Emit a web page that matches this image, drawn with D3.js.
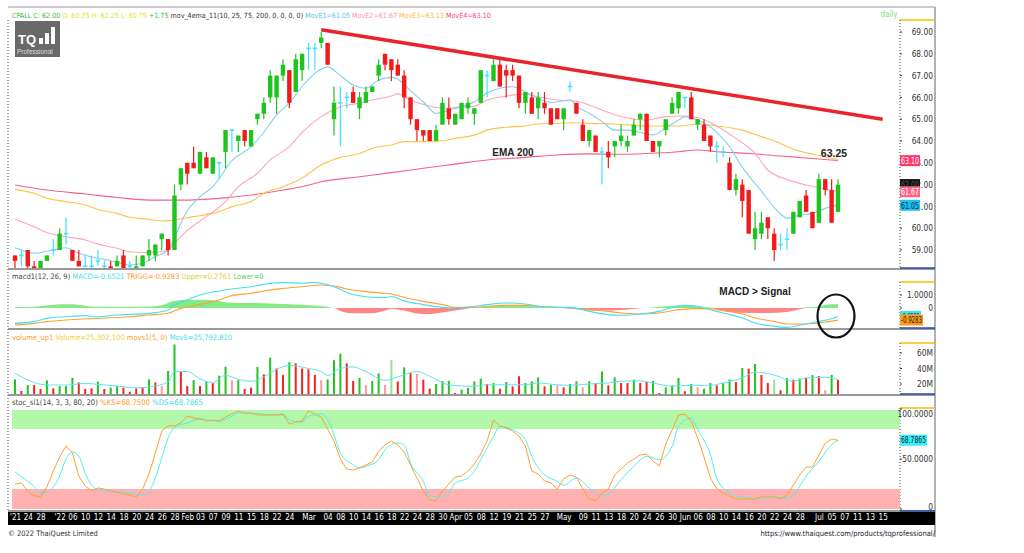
<!DOCTYPE html>
<html>
<head>
<meta charset="utf-8">
<script src="https://cdn.jsdelivr.net/npm/d3@7"></script>
<style>
body { margin: 0; background: #fff; }
svg { display: block; font-family: "Liberation Sans Narrow", "DejaVu Sans Condensed", "Liberation Sans", sans-serif; }
</style>
</head>
<body>
<div id="chart"></div>
<script>
// ---- candles (one per trading day, 22 Dec 2021 .. 6 Jul 2022)
var opens = [58.75,58.75,59,58.25,58,58.5,59,59,59.75,59,58.5,58.25,58.25,58.5,58.25,58.25,58.25,58.75,58.25,58,
  58.25,58.75,58.75,59.5,59.5,59,62,63,63,62.5,63.25,62.5,63,63.5,64.5,64,64.5,63.75,65,65.25,
  66,66,67,67.25,66.25,67.25,68.25,68.25,68.5,68.5,65,65.75,66,66.25,65.5,65.75,66.25,67,68,67.75,
  67.5,67,66,65,64.5,64.5,64,64.75,65.5,64.75,65,65.5,65.25,65.75,67,66.75,67.5,67.25,67.25,67,
  65.75,66,65.5,65.75,65.5,65.5,65,66.5,65.75,64.75,64,64.25,63.5,63.5,63.75,64,63.75,64.25,65,65.25,
  64,63.75,64.5,65.25,65.5,66,66,64.75,64.75,64.25,63.75,63.5,63,61.75,62,61.75,59.5,59.75,60.5,59.75,
  59.25,59.5,59.75,60.5,61.5,60.75,60.25,62.25,61.75,60.75];
var highs = [58.75,59,59,58.5,58.5,58.75,59.5,60,60.5,59,59,58.75,58.75,59,58.5,58.5,58.75,59,58.5,58.75,
  58.75,59.5,59.25,59.75,59.5,62,62.75,63,63.75,63.5,63.5,63.25,63,64.5,64.5,64.25,64.5,64.5,65.25,66,
  67.25,67,67.75,67.25,68,68,68.5,68.5,69,68.5,66.5,66.5,66.25,66.5,66.25,66.5,66.5,67.75,68,67.75,
  67.75,67.25,66,65,64.5,64.5,64.75,66,66,65.25,65.75,66,65.5,67.25,67.25,67.75,67.75,67.5,67.5,67,
  66.25,66.25,66.25,66.25,65.5,65.5,65.5,66.75,65.75,65,64.5,64.25,63.75,64,64,64.75,64.25,65,65.25,65.25,
  64,64,65,66,66.25,66,66.25,65,65,64.25,64,63.75,63.25,62.5,62.25,61.75,60.75,60.75,60.5,60,
  59.75,60,60.75,61.25,61.75,60.75,62.5,62.25,62.25,62.25];
var lows = [58,58.25,58,58,58,58.5,58.75,59,59.25,58.5,58.25,58.25,58,58.25,58,58,58.25,58,58,58,
  58.25,58.5,58.5,59,58.75,59,61.75,62,62.75,62.5,62.75,62.5,62.25,62.75,63.5,63.5,63.75,63.75,64.75,65,
  65.75,65.25,66.75,65.5,66.25,66.75,67.25,67.25,68.25,67.5,64.25,63.75,65.5,65.75,65,65.75,66.25,66.75,67.25,66.75,
  67,65.5,64.75,64,64,64,64,64.75,64.75,64.75,65,65.25,64.75,65.75,66,66.75,66.5,66,66.75,65.5,
  65.25,65.25,65,65.25,64.75,65,64.5,66.25,65.25,64,63.75,63.5,62,62.75,63.25,63.75,63.5,64.25,64.5,64,
  63.5,63.25,64.25,65.25,65.25,65.5,65,64.5,64,63.5,63,63.25,61.75,61.5,60.5,59.75,59,59.5,59.5,58.5,
  59,59,59.75,60.5,60.75,60,60.25,61.5,60.25,60.75];
var closes = [58.5,58.75,58.25,58,58.5,58.75,59,59.75,59.75,58.5,58.25,58.25,58.25,58.5,58.25,58,58.5,58,58.25,58.25,
  58.75,59,59.25,59.75,59,61.5,62.75,62.5,62.75,63.5,62.75,63.25,63,64.5,64.5,64.25,64,64.5,65.25,65.75,
  67,67,67.5,65.75,67.75,68,68.25,68.25,68.75,67.5,65.75,65.75,66,65.75,66,66.25,66.5,67.5,67.5,67.25,
  67,66,65,64.5,64.25,64,64.5,65.75,65,65.25,65.75,65.75,65.5,67.25,67,67.5,66.5,67,67,65.75,
  66.25,65.25,66,65.5,64.75,65,65.5,66.5,65.25,64,64.5,63.5,63.5,63.25,64,64.25,64,64.75,65.25,64,
  63.5,64,65,65.75,66.25,66,65,65,64,63.75,63.75,63.5,61.75,62.25,61.25,59.75,60,60.25,60,59,
  59.25,59.5,60.75,61.25,60.75,60,62.25,61.75,60.25,62];

// ---- moving averages as [day index, value]
var ema10 = [[0,59.1],[3,58.85],[6,59],[8,59.1],[10,58.85],[13,58.62],[15,58.51],[18,58.31],[20,58.39],[22,58.7],
  [24,59],[25,59.6],[27,60.8],[29,61.45],[31,61.9],[34,63.1],[37,63.74],[39,64.4],[41,65.2],[43,65.75],[45,66.5],
  [48,67.3],[49,67.4],[51,67],[53,66.57],[55,66.42],[57,66.8],[59,66.92],[60,66.83],[62,66.3],[64,65.8],[66,65.27],
  [68,65.42],[70,65.57],[72,65.8],[74,66.2],[76,66.42],[78,66.49],[80,66.25],[82,65.95],[84,65.76],[87,65.88],
  [88,65.6],[90,65.27],[92,64.9],[94,64.5],[96,64.5],[100,64.28],[102,64.6],[104,64.96],[105,65.12],[107,64.96],
  [110,64.4],[112,63.74],[114,62.8],[117,61.7],[120,60.65],[121,60.45],[123,60.6],[125,60.68],[127,60.91],[129,61.05]];
var ema25 = [[0,60.41],[3,60.07],[5,59.8],[8,59.61],[11,59.46],[13,59.27],[16,59.08],[18,58.92],[21,58.88],[24,59],
  [25,59.3],[27,59.9],[30,60.53],[33,61.22],[35,61.9],[38,62.52],[40,63.13],[43,63.74],[45,64.4],[48,65.12],[51,65.57],
  [54,65.73],[56,65.88],[59,66.06],[60,66.16],[62,65.88],[65,65.6],[67,65.5],[69,65.54],[72,65.6],[74,65.88],[77,66.06],
  [80,66.16],[82,66.03],[85,65.88],[88,65.82],[90,65.65],[92,65.42],[95,65.12],[99,64.96],[102,65.12],[105,65.15],
  [107,65.08],[110,64.69],[113,64.12],[116,63.43],[118,62.67],[121,62.24],[124,61.98],[127,61.8],[129,61.67]];
var ema75 = [[0,61.78],[3,61.6],[5,61.37],[8,61.22],[11,61.06],[13,60.86],[16,60.68],[18,60.5],[21,60.41],[23,60.33],
  [25,60.38],[28,60.53],[32,60.76],[34,60.99],[37,61.22],[39,61.6],[42,61.9],[45,62.3],[48,62.9],[51,63.25],[54,63.43],
  [56,63.66],[59,63.82],[61,63.97],[64,63.97],[67,64.01],[69,64.12],[72,64.27],[74,64.5],[77,64.63],[80,64.69],
  [82,64.78],[85,64.81],[88,64.84],[90,64.81],[94,64.78],[99,64.69],[104,64.69],[107,64.78],[110,64.69],[114,64.5],
  [117,64.2],[120,63.89],[122,63.62],[125,63.4],[127,63.28],[129,63.13]];
var ema200 = [[0,61.98],[5,61.75],[11,61.57],[16,61.41],[21,61.29],[26,61.29],[32,61.37],[37,61.52],[42,61.75],
  [45,61.9],[48,62.13],[54,62.36],[59,62.55],[64,62.75],[69,62.94],[74,63.13],[80,63.25],[85,63.36],[90,63.41],
  [94,63.39],[99,63.43],[104,63.51],[107,63.59],[110,63.51],[115,63.43],[120,63.31],[125,63.2],[129,63.1]];
var trendLine = [[48,69.1],[136,65.0]];

// ---- MACD
var macdLine = [[0,-1.18],[3,-1.05],[5,-0.8],[8,-0.67],[11,-0.59],[13,-0.67],[16,-0.54],[18,-0.49],[21,-0.41],[24,-0.15],
  [25,0.23],[27,0.62],[29,1.0],[32,1.31],[34,1.46],[37,1.64],[39,1.82],[42,1.97],[45,1.9],[47,1.97],[48,1.9],[50,1.64],
  [52,1.2],[55,0.87],[58,0.8],[59,0.88],[61,0.55],[64,0.26],[67,0.05],[69,0],[72,0.13],[74,0.26],[77,0.38],[80,0.31],
  [82,0.13],[85,0.05],[87,0.05],[90,-0.26],[93,-0.51],[95,-0.56],[98,-0.46],[101,-0.26],[103,0.05],[105,0.2],[107,0.13],
  [109,-0.13],[111,-0.38],[114,-0.77],[116,-1.15],[119,-1.41],[121,-1.49],[123,-1.33],[126,-1.03],[128,-0.82],[129,-0.65]];
var trigLine = [[0,-1.31],[3,-1.18],[5,-1.05],[8,-0.92],[13,-0.79],[18,-0.67],[21,-0.54],[24,-0.41],[26,-0.03],[29,0.28],
  [32,0.62],[34,0.95],[37,1.13],[39,1.31],[42,1.51],[45,1.64],[48,1.77],[50,1.69],[52,1.46],[55,1.26],[58,1.13],[59,1.08],
  [61,0.82],[64,0.51],[67,0.26],[69,0.05],[72,0.05],[74,0.13],[77,0.2],[80,0.2],[82,0.13],[85,0.05],[87,0],[90,-0.13],
  [93,-0.26],[95,-0.38],[98,-0.46],[101,-0.38],[103,-0.21],[106,-0.05],[109,-0.05],[111,-0.21],[114,-0.46],[116,-0.77],
  [119,-1.03],[121,-1.23],[124,-1.23],[127,-1.08],[129,-0.93]];
var macdHist = [[0,0.08],[3,0.1],[6,0.25],[8,0.28],[10,0.25],[12,0.12],[15,0.1],[18,0.1],[21,0.12],[23,0.22],[25,0.56],
  [27,0.64],[30,0.64],[32,0.52],[34,0.4],[38,0.38],[42,0.3],[46,0.22],[49,0.1],[50,0],[51,-0.23],[53,-0.4],[56,-0.41],
  [58,-0.2],[59,-0.05],[61,-0.2],[63,-0.42],[65,-0.46],[67,-0.35],[69,-0.2],[71,-0.03],[72,0.05],[74,0.12],[77,0.18],
  [80,0.15],[83,0.08],[86,0.02],[88,-0.1],[90,-0.18],[92,-0.2],[95,-0.15],[97,-0.05],[99,0],[101,0.1],[103,0.18],
  [106,0.18],[108,0.08],[110,-0.1],[112,-0.28],[115,-0.38],[118,-0.38],[121,-0.3],[123,-0.1],[124,0.05],[126,0.1],
  [127,0.25],[129,0.28]];

// ---- volume (millions) and colour code: g up, r down, l light up, p light down
var volumes = [26,11,18.7,18.7,13.5,24.7,14.4,17.4,17.4,28,22,13.5,14.4,23,13.5,15.3,17.4,15.3,10,14.4,
  15.3,26,22,17.4,36.8,71,35.9,17.4,25,17.4,23,21,30.8,42.3,25,25,13.5,15.3,42,32.5,
  54,40,31.8,48,46.7,40,39,31.8,25,26,50.7,59,46.7,23.9,28,18.7,23.9,33.7,18.7,51,
  23.3,41.5,34,33,25.6,14,20,24,24,8.4,12.7,15,23.5,27,20,21.3,14,22.6,17,30,
  21.3,23.5,28.6,17,19,18.3,15.7,20,23.5,15.7,23.5,21.3,36.3,18.3,28.6,21.3,21.3,25.6,21.3,22.6,
  24,8.4,15.7,18.3,27.8,10.6,20,15.7,14,21.3,18.3,21.3,25.6,22.6,40.6,39.8,45.8,31.6,21.3,25.6,
  11.9,27.8,25.6,27,27.8,31.6,30,11.9,31.6,25.3];
var volColors = ("grgrrgrggg" + "rrrgrggrrr" + "rgrpggrrgr" + "grggpgrrgr" + "grrgrrrrpg" + "ggrrgpggpl" +
  "rgrprrgggr" + "ggggrgrgrr" + "gggrgprggp" + "grgrgrrgrr" + "grgggrgpgg" + "rggrgrgrrl" + "rgrgrgrpgr").split("");
var volMA = [[0,33.8],[3,22],[5,18.7],[8,18.7],[11,20.8],[13,19.5],[16,17.4],[19,15],[21,16.2],[24,22.6],[25,36],[27,36],
  [29,26.7],[31,22],[33,31.2],[35,26],[37,23.5],[39,29],[41,39],[43,44],[46,40],[48,36],[49,31],[51,40],[53,42],[55,36],
  [58,24.7],[60,29],[61,32],[63,36.3],[65,30],[68,19],[72,17],[74,19],[80,19],[82,21.3],[85,19],[87,18.3],[90,20],
  [93,21.3],[95,23.5],[98,24],[100,21.3],[103,17],[106,18.3],[109,18.3],[111,21.3],[114,27.8],[116,35.4],[119,31.6],
  [122,23.5],[124,27.8],[127,28.6],[129,25.8]];

// ---- slow stochastic
var stochK = [25,26,18,13,12,22,38,52,63,56,33,23,18,21,20,18,17,15,14,12,
  20,35,56,78,83,83,86,93,91,90,88,89,88,92,95,98,96,96,94,94,
  94,94,95,85,87,88,98,95,92,80,68,50,40,39,41,44,47,58,64,68,
  64,57,44,31,18,9,8,18,25,32,33,38,45,55,68,89,83,81,78,73,
  63,38,35,28,26,20,30,34,32,20,10,8,16,20,34,40,46,50,54,55,
  48,43,65,79,94,95,88,71,52,31,20,16,13,10,10,10,10,12,13,12,
  10,14,24,34,42,42,54,66,70,68.75];
var stochD = [[0,37],[2,27.7],[3,22.7],[4,16],[5,17],[7,33],[8,50],[9,57],[10,53],[11,36],[12,24],[13,19.3],[15,17.7],
  [18,16],[20,14.3],[21,17.7],[22,31],[23,51],[24,71],[25,81.7],[27,86],[29,90.3],[31,88.3],[32,87.7],[34,92.7],[35,96],
  [37,96],[40,94.3],[42,94.3],[43,89.3],[45,87],[46,92.7],[48,95],[49,89.3],[50,74.3],[51,56],[53,44.3],[54,41],[55,42.7],
  [57,49.3],[58,59.3],[60,66],[61,64.3],[62,46],[64,27.7],[65,12.7],[67,12.7],[68,16],[69,26],[71,31],[72,37.7],[73,49.3],
  [75,72.7],[76,82.7],[78,79.3],[80,69.3],[81,52.7],[83,34.3],[85,27.7],[86,23.7],[88,31],[90,21],[92,12.7],[93,14.3],
  [95,29.3],[97,42.7],[99,52.7],[101,49.3],[103,62.7],[104,82.7],[106,91],[107,79.3],[109,54.3],[110,31],[112,16],
  [114,11.7],[117,10.3],[119,11.7],[121,11],[122,14.3],[124,32.7],[126,47.7],[128,64.3],[129,68.79]];

// ---- date axis
var tickIdx = [0,2,4,7,9,11,13,15,17,19,21,23,25,27,29,31,33,35,37,39,41,43,46,49,51,53,55,57,59,61,63,65,67,
  69,71,73,75,77,79,81,83,86,89,91,93,95,97,99,101,103,105,107,109,111,113,115,117,119,121,123,126,128,130,132,134,136];
var tickText = ["'21","24","28","'22","06","10","12","14","18","20","24","26","28","Feb","03","07","09","11","15","18","22","24",
  "Mar","04","08","10","14","16","18","22","24","28","30","Apr","05","08","12","19","21","25","27",
  "May","09","11","13","18","20","24","26","30","Jun","06","08","10","14","16","20","22","24","28",
  "Jul","05","07","11","13","15"];
var priceTicks = [59,60,61,62,63,64,65,66,67,68,69];

function init() {
    var w = 1024, h = 553;
    var left = 8, right = 935, plotRight = 900;

    var svg = d3.select("#chart").append("svg")
        .attr("width", w).attr("height", h);

    var x = d3.scaleLinear().domain([0, 129]).range([15, 838]);

    var panels = {
        price: { top: 20, bottom: 268, head: 17.5, fs: 7.1 },
        macd: { top: 282, bottom: 328, head: 279, fs: 7.5 },
        vol: { top: 343, bottom: 394, head: 340, fs: 7.5 },
        stoch: { top: 408, bottom: 511, head: 405, fs: 7.7 }
    };
    var yP = d3.scaleLinear().domain([59, 69]).range([250, 32]);
    var yM = d3.scaleLinear().domain([0, 1]).range([308, 295]);
    var yV = d3.scaleLinear().domain([20, 60]).range([384, 353]);
    var yS = d3.scaleLinear().domain([0, 100]).range([509, 409]);

    var defs = svg.append("defs");
    Object.keys(panels).forEach(function (k) {
        var p = panels[k];
        defs.append("clipPath").attr("id", "clip-" + k)
            .append("rect")
            .attr("x", left + 1).attr("y", p.top)
            .attr("width", plotRight - left - 1).attr("height", p.bottom - p.top);
    });

    // frame
    svg.append("line").attr("x1", left).attr("x2", right).attr("y1", 7).attr("y2", 7)
        .attr("stroke", "#999").attr("stroke-width", 1);
    svg.append("line").attr("x1", right).attr("x2", right).attr("y1", 7).attr("y2", 537)
        .attr("stroke", "#999").attr("stroke-width", 1.5);
    svg.append("line").attr("x1", left).attr("x2", left).attr("y1", 20).attr("y2", 511)
        .attr("stroke", "#555").attr("stroke-dasharray", "1,2");

    [269, 329, 395, 511].forEach(function (yy) {
        svg.append("line").attr("x1", left).attr("x2", right).attr("y1", yy).attr("y2", yy)
            .attr("stroke", "#777").attr("stroke-width", 1.5);
    });

    // right axis boxes
    Object.keys(panels).forEach(function (k) {
        var p = panels[k];
        svg.append("line").attr("x1", plotRight).attr("x2", right).attr("y1", p.top).attr("y2", p.top)
            .attr("stroke", "#f2c200").attr("stroke-width", 1.5);
        svg.append("line").attr("x1", plotRight).attr("x2", right).attr("y1", p.bottom).attr("y2", p.bottom)
            .attr("stroke", "#2a4aa8").attr("stroke-width", 1.5);
        svg.append("line").attr("x1", plotRight).attr("x2", plotRight).attr("y1", p.top).attr("y2", p.bottom)
            .attr("stroke", "#444").attr("stroke-dasharray", "1,2");
    });

    // ---------- price panel
    var gP = svg.append("g").attr("clip-path", "url(#clip-price)");
    var lineP = d3.line().x(function (d) { return x(d[0]); }).y(function (d) { return yP(d[1]); })
        .curve(d3.curveMonotoneX);
    var emaSets = [
        { data: ema200, color: "#f5608a" },
        { data: ema75, color: "#ffc24a" },
        { data: ema25, color: "#ffa4b8" },
        { data: ema10, color: "#7fd0f2" }
    ];
    emaSets.forEach(function (s) {
        gP.append("path").datum(s.data).attr("d", lineP)
            .attr("fill", "none").attr("stroke", s.color).attr("stroke-width", 1.1);
    });

    var candles = d3.range(opens.length).map(function (i) {
        return { i: i, o: opens[i], h: highs[i], l: lows[i], c: closes[i] };
    });
    function cColor(d) {
        if (d.c > d.o) return "#1ec41e";
        if (d.c < d.o) return "#f21a1a";
        return "#3fe3ff";
    }
    var cg = gP.selectAll("g.candle").data(candles).enter().append("g").attr("class", "candle");
    cg.append("line")
        .attr("x1", function (d) { return x(d.i); }).attr("x2", function (d) { return x(d.i); })
        .attr("y1", function (d) { return yP(d.h); }).attr("y2", function (d) { return yP(d.l); })
        .attr("stroke", cColor).attr("stroke-width", 1.2);
    cg.append("rect")
        .attr("x", function (d) { return x(d.i) - 2.2; })
        .attr("width", 4.4)
        .attr("y", function (d) { return yP(Math.max(d.o, d.c)) - (d.o === d.c ? 0.8 : 0); })
        .attr("height", function (d) { return Math.max(1.6, Math.abs(yP(d.o) - yP(d.c))); })
        .attr("fill", cColor);

    gP.append("path").datum(trendLine)
        .attr("d", d3.line().x(function (d) { return x(d[0]); }).y(function (d) { return yP(d[1]); }))
        .attr("stroke", "#e8232b").attr("stroke-width", 3.5).attr("fill", "none");

    svg.append("text").attr("x", 513).attr("y", 156).attr("text-anchor", "middle")
        .style("font-family", "'Liberation Sans', Arial, sans-serif")
        .style("font-weight", "bold").style("font-size", "10px").attr("fill", "#222").text("EMA 200");
    svg.append("text").attr("x", 834).attr("y", 157).attr("text-anchor", "middle")
        .style("font-family", "'Liberation Sans', Arial, sans-serif")
        .style("font-weight", "bold").style("font-size", "10.5px").attr("fill", "#222").text("63.25");

    // logo
    var logo = svg.append("g");
    logo.append("rect").attr("x", 15).attr("y", 21).attr("width", 45).attr("height", 36).attr("fill", "#6a6a6a");
    logo.append("text").attr("x", 18).attr("y", 44).attr("fill", "#fff")
        .style("font-family", "'Liberation Sans', Arial, sans-serif")
        .style("font-size", "13px").style("font-weight", "bold").text("TQ");
    [[39, 38, 4, 6], [45, 33, 4, 11], [51, 27, 4, 17]].forEach(function (b) {
        logo.append("rect").attr("x", b[0]).attr("y", b[1]).attr("width", b[2]).attr("height", b[3]).attr("fill", "#fff");
    });
    logo.append("text").attr("x", 17).attr("y", 54).attr("fill", "#ddd")
        .style("font-family", "'Liberation Sans', Arial, sans-serif")
        .style("font-size", "6.5px").text("Professional");

    // ---------- MACD panel
    var gM = svg.append("g").attr("clip-path", "url(#clip-macd)");
    var areaPos = d3.area().x(function (d) { return x(d[0]); }).y0(yM(0))
        .y1(function (d) { return yM(Math.max(0, d[1])); }).curve(d3.curveMonotoneX);
    var areaNeg = d3.area().x(function (d) { return x(d[0]); }).y0(yM(0))
        .y1(function (d) { return yM(Math.min(0, d[1])); }).curve(d3.curveMonotoneX);
    gM.append("path").datum(macdHist).attr("d", areaPos).attr("fill", "#86e886");
    gM.append("path").datum(macdHist).attr("d", areaNeg).attr("fill", "#ff8585");
    var lineM = d3.line().x(function (d) { return x(d[0]); }).y(function (d) { return yM(d[1]); })
        .curve(d3.curveMonotoneX);
    gM.append("path").datum(trigLine).attr("d", lineM).attr("fill", "none")
        .attr("stroke", "#ffa033").attr("stroke-width", 1.1);
    gM.append("path").datum(macdLine).attr("d", lineM).attr("fill", "none")
        .attr("stroke", "#43e0f0").attr("stroke-width", 1.1);

    svg.append("text").attr("x", 755).attr("y", 295).attr("text-anchor", "middle")
        .style("font-family", "'Liberation Sans', Arial, sans-serif")
        .style("font-weight", "bold").style("font-size", "10px").attr("fill", "#222").text("MACD > Signal");
    svg.append("ellipse").attr("cx", 836).attr("cy", 316).attr("rx", 18.5).attr("ry", 21.5)
        .attr("fill", "none").attr("stroke", "#111").attr("stroke-width", 2.2);

    // ---------- volume panel
    var gV = svg.append("g").attr("clip-path", "url(#clip-vol)");
    var volCol = { g: "#22c422", r: "#f52222", l: "#8fe58f", p: "#ff9a9a" };
    gV.selectAll("rect.vol").data(volumes).enter().append("rect").attr("class", "vol")
        .attr("x", function (d, i) { return x(i) - 1; })
        .attr("width", 2)
        .attr("y", function (d) { return yV(d); })
        .attr("height", function (d) { return Math.max(0, panels.vol.bottom - yV(d)); })
        .attr("fill", function (d, i) { return volCol[volColors[i]]; });
    gV.append("path").datum(volMA)
        .attr("d", d3.line().x(function (d) { return x(d[0]); }).y(function (d) { return yV(d[1]); })
            .curve(d3.curveMonotoneX))
        .attr("fill", "none").attr("stroke", "#5ee3f0").attr("stroke-width", 1);

    // ---------- stochastic panel
    var gS = svg.append("g").attr("clip-path", "url(#clip-stoch)");
    gS.append("rect").attr("x", 12).attr("width", plotRight - 12)
        .attr("y", yS(99)).attr("height", yS(80) - yS(99)).attr("fill", "#b3f7ab");
    gS.append("rect").attr("x", 12).attr("width", plotRight - 12)
        .attr("y", yS(20)).attr("height", yS(0) - yS(20)).attr("fill", "#ffb1b1");
    gS.append("path").datum(stochD)
        .attr("d", d3.line().x(function (d) { return x(d[0]); }).y(function (d) { return yS(d[1]); })
            .curve(d3.curveMonotoneX))
        .attr("fill", "none").attr("stroke", "#4ef0f0").attr("stroke-width", 1);
    gS.append("path").datum(stochK)
        .attr("d", d3.line().x(function (d, i) { return x(i); }).y(function (d) { return yS(d); }))
        .attr("fill", "none").attr("stroke", "#ffa030").attr("stroke-width", 1);

    // ---------- right axes
    function styleAxis(g) {
        g.select(".domain").remove();
        g.selectAll("text").attr("fill", "#333").style("font-size", "8.3px")
            .style("font-family", "'Liberation Sans Narrow','DejaVu Sans Condensed','Liberation Sans',sans-serif");
    }
    svg.append("g").attr("transform", "translate(" + (right - 1) + ",0)")
        .call(d3.axisLeft(yP).tickValues(priceTicks).tickSize(0).tickPadding(1).tickFormat(d3.format(".2f")))
        .call(styleAxis);
    svg.append("g").attr("transform", "translate(" + (right - 1) + ",0)")
        .call(d3.axisLeft(yM).tickValues([1, 0]).tickSize(0).tickPadding(1)
            .tickFormat(function (d) { return d === 0 ? "0" : d3.format(".4f")(d); }))
        .call(styleAxis);
    svg.append("g").attr("transform", "translate(" + (right - 1) + ",0)")
        .call(d3.axisLeft(yV).tickValues([20, 40, 60]).tickSize(0).tickPadding(1)
            .tickFormat(function (d) { return d + "M"; }))
        .call(styleAxis);
    var sAx = svg.append("g").attr("transform", "translate(" + (right - 1) + ",0)")
        .call(d3.axisLeft(yS).tickValues([100, 50, 0]).tickSize(0).tickPadding(1)
            .tickFormat(function (d) { return d === 0 ? "0" : d3.format(".4f")(d); }))
        .call(styleAxis);
    sAx.selectAll(".tick").filter(function (d) { return d === 100; }).select("text").attr("dy", "0.85em");
    sAx.selectAll(".tick").filter(function (d) { return d === 0; }).select("text").attr("dy", "0");

    // small ticks on the axis borders
    function borderTicks(scale, vals) {
        vals.forEach(function (v) {
            svg.append("line").attr("x1", plotRight).attr("x2", plotRight + 2)
                .attr("y1", scale(v)).attr("y2", scale(v)).attr("stroke", "#333");
        });
    }
    borderTicks(yP, priceTicks);
    borderTicks(yV, [20, 40, 60]);
    borderTicks(yM, [1, 0]);
    borderTicks(yS, [100, 50, 0]);

    // value tags
    function tag(yy, txt, bg, fg, wd) {
        var g = svg.append("g");
        g.append("rect").attr("x", plotRight).attr("y", yy - 5.5).attr("width", wd).attr("height", 11).attr("fill", bg);
        g.append("text").attr("x", plotRight + 1).attr("y", yy + 3.2).attr("fill", fg)
            .attr("textLength", wd - 2).attr("lengthAdjust", "spacingAndGlyphs")
            .style("font-size", "8.5px").text(txt);
    }
    tag(yP(63.10), "63.10", "#ff3a6e", "#fff", 20);
    tag(yP(62.00), "62.00", "#111", "#555", 20);
    tag(yP(61.67), "61.67", "#ff6688", "#fff", 20);
    tag(yP(61.05), "61.05", "#1ec0f0", "#0a2a40", 20);
    tag(yM(-0.6521), "-0.6521", "#36e6f5", "#333", 21);
    tag(yM(-0.9283), "-0.9283", "#ff9a1a", "#222", 23);
    tag(yS(68.7865), "68.7865", "#36f0f5", "#123", 27);

    // ---------- date axis
    svg.append("rect").attr("x", left).attr("y", 512).attr("width", right - left).attr("height", 13).attr("fill", "#000");
    var xAxis = d3.axisBottom(x).tickValues(tickIdx).tickSize(0).tickPadding(2)
        .tickFormat(function (d, i) { return tickText[i]; });
    var xg = svg.append("g").attr("transform", "translate(0,512)").call(xAxis);
    xg.select(".domain").remove();
    xg.selectAll("text").attr("fill", "#fff").style("font-size", "8px")
        .style("font-family", "'Liberation Sans Narrow','DejaVu Sans Condensed','Liberation Sans',sans-serif");
    tickIdx.forEach(function (t) {
        svg.append("line").attr("x1", x(t)).attr("x2", x(t)).attr("y1", 510).attr("y2", 512)
            .attr("stroke", "#888");
    });

    // ---------- panel headers
    function header(p, parts) {
        var t = svg.append("text").attr("x", 12).attr("y", p.head).style("font-size", p.fs + "px");
        parts.forEach(function (q) { t.append("tspan").attr("fill", q[1]).text(q[0]); });
    }
    header(panels.price, [
        ["CPALL C: 62.00", "#33c433"], [" O: 60.75 H: 62.25 L: 60.75", "#e6e02c"], [" +1.75", "#33c433"],
        [" mov_4ema_11(10, 25, 75, 200, 0, 0, 0, 0)", "#333"], [" MovE1=61.05", "#4fc3f7"],
        [" MovE2=61.67", "#ff8fb0"], [" MovE3=63.13", "#ffb53a"], [" MovE4=63.10", "#ff3d6e"]
    ]);
    header(panels.macd, [
        ["macd1(12, 26, 9)", "#444"], [" MACD=-0.6521", "#3fdcec"], [" TRIGG=-0.9283", "#ff9a22"],
        [" Upper=0.2761", "#d8d23a"], [" Lower=0", "#5ad35a"]
    ]);
    header(panels.vol, [
        ["volume_up1", "#ff9a2a"], [" Volume=25,302,100", "#f0d030"], [" movs1(5, 0)", "#ff9a2a"],
        [" MovS=25,792,820", "#3fdcec"]
    ]);
    header(panels.stoch, [
        ["stoc_sl1(14, 3, 3, 80, 20)", "#444"], [" %KS=68.7500", "#ff9a2a"], [" %DS=68.7865", "#3fdcec"]
    ]);
    svg.append("text").attr("x", 889).attr("y", 17).attr("text-anchor", "middle")
        .style("font-size", "8px").attr("fill", "#7ee07e").text("daily");

    // footer
    svg.append("text").attr("x", 8).attr("y", 536).style("font-size", "7.5px").attr("fill", "#333")
        .text("\u00a9 2022 ThaiQuest Limited");
    svg.append("text").attr("x", right).attr("y", 536).attr("text-anchor", "end")
        .style("font-size", "7.5px").attr("fill", "#223").text("https://www.thaiquest.com/products/tqprofessional/");
}

window.onload = init;
</script>
</body>
</html>
